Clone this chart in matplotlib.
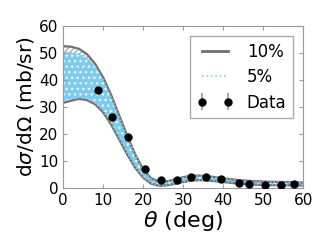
import numpy as np
import matplotlib.pyplot as plt
from matplotlib.lines import Line2D

# angles of the theory bands
theta = [0, 2, 4, 6, 8, 10, 12, 14, 16, 18, 20, 22, 24, 26, 28, 30,
         32, 34, 36, 38, 40, 44, 48, 52, 56, 60]
# 10% band
up10 = [52.5, 52.3, 51.5, 49.5, 46.0, 41.0, 34.5, 27.0, 19.5, 12.5, 7.0, 3.6,
        2.4, 2.5, 3.2, 4.0, 4.5, 4.6, 4.4, 4.0, 3.6, 2.9, 2.5, 2.3, 2.2, 2.0]
lo10 = [31.5, 32.3, 33.0, 32.5, 31.0, 28.0, 23.5, 18.0, 12.5, 7.5, 3.8, 1.6,
        0.8, 1.0, 1.5, 2.2, 2.7, 2.9, 2.8, 2.5, 2.2, 1.6, 1.2, 1.0, 1.0, 0.9]
# 5% band
up5 = [50.3, 50.2, 49.6, 48.0, 45.0, 40.3, 34.0, 26.6, 19.1, 12.2, 6.8, 3.4,
       2.3, 2.4, 3.1, 3.9, 4.4, 4.5, 4.3, 3.9, 3.5, 2.8, 2.4, 2.2, 2.1, 1.9]
lo5 = [32.2, 32.8, 33.4, 33.0, 31.5, 28.5, 24.0, 18.4, 12.9, 7.8, 4.0, 1.7,
       0.9, 1.1, 1.6, 2.3, 2.8, 3.0, 2.9, 2.6, 2.3, 1.7, 1.3, 1.1, 1.1, 1.0]

# measured data
th_data = [8.75, 12.3, 16.3, 20.5, 24.5, 28.5, 32.0, 35.7, 39.5, 44.0,
           46.5, 50.5, 54.4, 57.75]
xs_data = [36.3, 26.3, 18.9, 7.0, 3.0, 3.0, 4.1, 4.1, 3.3, 2.0,
           1.5, 1.1, 1.1, 1.4]
xs_err = [1.0, 0.8, 0.6, 0.3, 0.2, 0.2, 0.2, 0.2, 0.2, 0.1,
          0.1, 0.1, 0.1, 0.1]

gray = '#707070'
blue = '#87ceeb'

fig = plt.figure(figsize=(3.32, 2.49), dpi=100)
ax = fig.add_axes([0.19, 0.245, 0.723, 0.651])

ax.fill_between(theta, lo10, up10, facecolor='white', edgecolor='#b0b0b0',
                hatch='//////', linewidth=0)
ax.fill_between(theta, lo5, up5, facecolor='#7ecbea', edgecolor='#e8f6fc',
                hatch='...', linewidth=0)
ax.plot(theta, up10, color=gray, lw=1.6)
ax.plot(theta, lo10, color=gray, lw=1.6)
ax.plot(theta, up5, color=blue, lw=1, ls=':')
ax.plot(theta, lo5, color=blue, lw=1, ls=':')

ax.errorbar(th_data, xs_data, yerr=xs_err, fmt='o', color='black',
            ecolor='#aaaaaa', markersize=5, zorder=5)

ax.set_xlim(0, 60)
ax.set_ylim(0, 60)
ax.set_xticks([0, 10, 20, 30, 40, 50, 60])
ax.set_yticks([0, 10, 20, 30, 40, 50, 60])
ax.tick_params(direction='in', top=True, right=True, colors='#999999',
               labelcolor='black', labelsize=11, length=3)
for s in ax.spines.values():
    s.set_color('#999999')

ax.set_xlabel(r'$\theta$ (deg)', fontsize=16, labelpad=1)
ax.set_ylabel(r'd$\sigma$/d$\Omega$ (mb/sr)', fontsize=14.5, labelpad=2)

eb = ax.errorbar([], [], yerr=[], fmt='o', color='black', ecolor='#aaaaaa',
                 markersize=5)
handles = [Line2D([], [], color=gray, lw=2),
           Line2D([], [], color=blue, lw=1.2, ls=':'),
           eb]
leg = ax.legend(handles, ['10%', '5%', 'Data'], loc='upper right',
                fontsize=12, numpoints=2, fancybox=False, framealpha=1,
                borderaxespad=0.6, handlelength=2.2, labelspacing=0.45)
leg.get_frame().set_edgecolor('#aaaaaa')

fig.savefig('out.png', dpi=100)
